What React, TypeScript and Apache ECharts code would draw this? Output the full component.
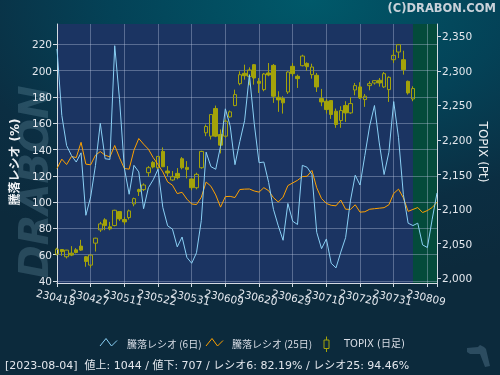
import React, { useEffect, useRef } from 'react';
import * as echarts from 'echarts';

// Trading days (YYMMDD), index 0..79
const dates = [
  '230418','230419','230420','230421','230424','230425','230426','230427','230428','230501',
  '230502','230508','230509','230510','230511','230512','230515','230516','230517','230518',
  '230519','230522','230523','230524','230525','230526','230529','230530','230531','230601',
  '230602','230605','230606','230607','230608','230609','230612','230613','230614','230615',
  '230616','230619','230620','230621','230622','230623','230626','230627','230628','230629',
  '230630','230703','230704','230705','230706','230707','230710','230711','230712','230713',
  '230714','230718','230719','230720','230721','230724','230725','230726','230727','230728',
  '230731','230801','230802','230803','230804','230807','230808','230809','230810','230814',
];

// 騰落レシオ (6日) %
const ratio6 = [
  216.5,166,143,135.5,130.5,137.5,90,104,128,160,
  133,132.5,219,178,126,106,128,123,95,111,
  117,125,96,82,79.5,66,73.5,58,53.5,61.5,
  86,138,127,125,142.5,171,158,128.5,146,162,
  197,160,130,130.5,115,94.5,82,71,99,85.5,
  83,128,126.5,121,77,64.6,72,53.5,50,62,
  73,101,120.5,113,135.5,158,173.5,145,121,138,
  176.5,149,106,84,82.19,84,67.5,65.5,87,107,
];

// 騰落レシオ (25日) %
const ratio25 = [
  125.6,132.7,128.6,134.7,133.9,145.5,128.9,128.4,135.7,138.5,
  135.7,134.4,143.1,133.7,125.6,125.1,139.5,148.4,144.1,140.3,
  133.9,128.6,123.0,115.4,112.9,106.5,107.5,102.3,98.6,98.2,
  103.7,115.3,112.1,105.5,96.2,104.2,104.4,103.5,109.6,109.9,
  110.0,108.5,107.6,111.0,108.7,103.4,100.1,103.8,112.6,114.6,
  116.6,119.4,119.7,124.1,110.9,102.7,99.0,97.6,97.2,101.6,
  94.6,94.5,98.0,92.4,92.7,94.6,95.0,95.4,95.8,98.0,
  106.6,109.9,103.3,93.0,94.46,95.9,92.1,93.6,95.9,100.0,
];

// TOPIX daily: open, close, low, high (index 0..74)
const topixOpen = [
  2034.8,2041.5,2031.0,2036.2,2041.0,2046.4,2031.0,2018.9,2050.7,2069.9,
  2084.4,2074.3,2076.2,2096.4,2084.9,2087.7,2107.5,2128.2,2128.2,2152.7,
  2167.6,2159.9,2183.5,2155.1,2142.1,2151.7,2172.9,2160.4,2143.6,2131.0,
  2159.9,2210.5,2205.6,2245.6,2208.0,2205.6,2233.5,2249.9,2281.6,2296.6,
  2291.8,2309.1,2285.0,2273.0,2297.1,2308.1,2261.9,2260.0,2269.6,2306.7,
  2292.3,2307.6,2311.0,2294.7,2293.7,2260.0,2256.2,2257.1,2241.7,2228.2,
  2249.9,2239.3,2272.5,2276.9,2258.6,2278.8,2282.6,2286.5,2276.9,2273.0,
  2316.3,2327.4,2316.3,2285.0,2259.5,
];
const topixClose = [
  2042.0,2038.6,2040.6,2033.4,2037.2,2040.6,2024.2,2033.4,2057.9,2078.6,
  2076.2,2071.4,2098.3,2085.8,2081.5,2097.4,2115.2,2125.3,2134.9,2159.9,
  2160.9,2176.3,2161.3,2152.2,2146.9,2145.5,2159.9,2157.5,2131.0,2150.3,
  2183.5,2219.6,2236.9,2205.6,2192.6,2227.3,2240.8,2265.8,2294.6,2293.2,
  2301.4,2289.8,2282.1,2295.6,2294.2,2263.4,2258.1,2253.8,2298.5,2296.1,
  2288.9,2321.6,2306.2,2305.7,2276.9,2255.2,2244.1,2236.9,2222.5,2242.7,
  2239.3,2252.8,2278.8,2261.0,2263.4,2281.6,2286.0,2282.6,2296.1,2290.8,
  2322.6,2338.0,2301.9,2268.2,2274.5,
];
const topixLow = [
  2033.0,2032.4,2028.6,2031.9,2035.8,2039.6,2016.5,2015.1,2038.6,2067.0,
  2069.4,2069.4,2075.0,2082.9,2077.6,2084.9,2104.1,2119.0,2126.2,2146.9,
  2158.9,2157.5,2160.9,2147.9,2140.6,2143.1,2157.5,2144.5,2127.2,2128.6,
  2158.5,2205.6,2200.8,2204.2,2180.6,2203.2,2232.1,2249.0,2279.3,2287.4,
  2279.3,2280.2,2268.2,2270.6,2292.3,2253.8,2240.8,2238.3,2266.7,2292.3,
  2275.4,2306.7,2300.4,2288.9,2269.6,2249.0,2238.3,2230.6,2217.7,2217.7,
  2226.3,2237.9,2264.8,2259.5,2248.0,2272.0,2280.2,2277.3,2275.4,2255.2,
  2311.5,2318.7,2294.7,2265.8,2256.2,
];
const topixHigh = [
  2044.0,2042.0,2041.0,2046.4,2043.5,2055.5,2032.0,2034.0,2058.5,2081.5,
  2086.8,2081.5,2099.0,2097.0,2088.7,2099.3,2116.6,2129.6,2137.3,2162.3,
  2169.5,2176.8,2189.3,2162.3,2155.1,2159.4,2175.3,2169.5,2144.0,2152.7,
  2184.5,2222.5,2237.0,2249.9,2215.3,2229.7,2242.7,2273.0,2299.5,2309.1,
  2305.2,2310.1,2289.8,2297.1,2311.5,2310.1,2270.6,2263.4,2299.5,2311.5,
  2294.7,2323.5,2312.5,2310.5,2297.1,2274.0,2259.5,2257.6,2245.6,2249.0,
  2256.2,2261.9,2282.6,2283.6,2266.7,2285.0,2286.5,2289.8,2298.5,2292.3,
  2330.7,2338.9,2329.3,2286.0,2277.8,
];

const leftTicks = { min: 38.5, max: 235.5, step: 20 };
const rightTicks = { min: 1993, max: 2368, step: 50 };
const labelEvery = 7;
const latestIndex = 74;

const FONT = "'DejaVu Sans', 'Noto Sans CJK JP', sans-serif";
const LBL = '#e4e8ee';
const AX = '#d4dae2';
const GRIDC = 'rgba(190,200,225,0.38)';
const BLUE = '#8ad0f5';
const ORANGE = '#ffa200';
const OLIVE = '#a3a30a';

export default function App() {
  const ref = useRef<HTMLDivElement>(null);
  useEffect(() => {
    const chart = echarts.init(ref.current!, null, { renderer: 'svg' });
    const candles = topixOpen.map((o, i) => [o, topixClose[i], topixLow[i], topixHigh[i]]);
    const option: any = {
      animation: false,
      backgroundColor: 'transparent',
      textStyle: { fontFamily: FONT },
      grid: { left: 57, right: 63, top: 24, bottom: 92, show: true, backgroundColor: '#1b3462', borderWidth: 0 },
      xAxis: {
        type: 'category',
        data: dates,
        boundaryGap: false,
        z: 3,
        axisLine: { lineStyle: { color: AX, width: 1 } },
        axisTick: { interval: labelEvery - 1, length: 4, lineStyle: { color: AX } },
        axisLabel: {
          interval: 0, rotate: -13, align: 'center', verticalAlign: 'top', margin: 9,
          color: LBL, fontSize: 10.5, fontFamily: FONT,
          formatter: (v: string, i: number) => (i % labelEvery === 0 ? v : ''),
        },
        splitLine: { show: true, interval: labelEvery - 1, lineStyle: { color: GRIDC, width: 1 } },
      },
      yAxis: [
        {
          type: 'value', position: 'left', min: leftTicks.min, max: leftTicks.max,
          splitNumber: 10, minInterval: leftTicks.step, maxInterval: leftTicks.step, z: 3,
          axisLine: { show: true, lineStyle: { color: AX } },
          axisTick: { show: true, length: 4, lineStyle: { color: AX } },
          axisLabel: { showMinLabel: false, showMaxLabel: false, color: LBL, fontSize: 10.5, margin: 5, fontFamily: FONT },
          splitLine: { show: true, showMinLine: false, showMaxLine: false, lineStyle: { color: GRIDC, width: 1 } },
        },
        {
          type: 'value', position: 'right', min: rightTicks.min, max: rightTicks.max,
          splitNumber: 8, minInterval: rightTicks.step, maxInterval: rightTicks.step, z: 3,
          axisLine: { show: true, lineStyle: { color: AX } },
          axisTick: { show: true, length: 4, lineStyle: { color: AX } },
          axisLabel: {
            showMinLabel: false, showMaxLabel: false, color: LBL, fontSize: 10.5, margin: 5, fontFamily: FONT,
            formatter: (v: number) => v.toLocaleString('en-US'),
          },
          splitLine: { show: false },
        },
      ],
      series: [
        {
          type: 'line', name: 'area', data: [], z: 2, silent: true,
          markArea: {
            silent: true, z: 2,
            itemStyle: { color: '#044b3b' },
            data: [[{ xAxis: dates[latestIndex] }, { xAxis: dates[dates.length - 1] }]],
          },
        },
        {
          type: 'candlestick', name: 'TOPIX (日足)', yAxisIndex: 1, data: candles, z: 4,
          barWidth: 4, clip: false,
          itemStyle: { color: 'rgba(0,0,0,0)', color0: OLIVE, borderColor: OLIVE, borderColor0: OLIVE, borderWidth: 1 },
        },
        {
          type: 'line', name: '騰落レシオ (25日)', yAxisIndex: 0, data: ratio25, z: 5,
          symbol: 'none', lineStyle: { color: ORANGE, width: 1 },
        },
        {
          type: 'line', name: '騰落レシオ (6日)', yAxisIndex: 0, data: ratio6, z: 6,
          symbol: 'none', lineStyle: { color: BLUE, width: 1 },
        },
      ],
      graphic: [
        {
          type: 'text', x: 34, y: 182, rotation: Math.PI / 2, z: 0, silent: true,
          style: { text: 'DRABON', font: 'italic bold 40px "DejaVu Sans"', fill: 'rgba(125,165,185,0.26)', align: 'center', verticalAlign: 'middle' },
        },
        {
          type: 'text', x: 496, y: 8, z: 5,
          style: { text: '(C)DRABON.COM', font: 'bold 11.5px "DejaVu Sans"', fill: '#c9d2da', align: 'right', verticalAlign: 'middle' },
        },
        {
          type: 'text', x: 15, y: 162, rotation: Math.PI / 2, z: 5,
          style: { text: '騰落レシオ (%)', font: 'bold 12px "DejaVu Sans", "Noto Sans CJK JP"', fill: '#eef1f4', align: 'center', verticalAlign: 'middle' },
        },
        {
          type: 'text', x: 483, y: 152, rotation: -Math.PI / 2, z: 5,
          style: { text: 'TOPIX (Pt)', font: '12px "DejaVu Sans"', fill: '#eef1f4', align: 'center', verticalAlign: 'middle' },
        },
        { type: 'polyline', z: 5, shape: { points: [[100, 346], [106, 338.5], [111.5, 346], [117, 340.5]] }, style: { stroke: BLUE, lineWidth: 1, fill: null } },
        { type: 'text', x: 127, y: 343.5, z: 5, style: { text: '騰落レシオ (6日)', font: '10px "Noto Sans CJK JP"', fill: '#d8dde6', verticalAlign: 'middle' } },
        { type: 'polyline', z: 5, shape: { points: [[206, 346], [212, 338.5], [217.5, 346], [223, 340.5]] }, style: { stroke: ORANGE, lineWidth: 1, fill: null } },
        { type: 'text', x: 232, y: 343.5, z: 5, style: { text: '騰落レシオ (25日)', font: '10px "Noto Sans CJK JP"', fill: '#d8dde6', verticalAlign: 'middle' } },
        { type: 'line', z: 5, shape: { x1: 326.5, y1: 336.5, x2: 326.5, y2: 340 }, style: { stroke: OLIVE, lineWidth: 1 } },
        { type: 'line', z: 5, shape: { x1: 326.5, y1: 348.5, x2: 326.5, y2: 352 }, style: { stroke: OLIVE, lineWidth: 1 } },
        { type: 'rect', z: 5, shape: { x: 324, y: 340, width: 5, height: 8.5 }, style: { stroke: OLIVE, lineWidth: 1, fill: null } },
        { type: 'text', x: 344, y: 343.5, z: 5, style: { text: 'TOPIX (日足)', font: '10px "DejaVu Sans", "Noto Sans CJK JP"', fill: '#d8dde6', verticalAlign: 'middle' } },
        {
          type: 'text', x: 5, y: 365, z: 5,
          style: {
            text: '[2023-08-04]  値上: 1044 / 値下: 707 / レシオ6: 82.19% / レシオ25: 94.46%',
            font: '11px "DejaVu Sans", "Noto Sans CJK JP"', fill: '#e2e6ec', verticalAlign: 'middle',
          },
        },
        {
          type: 'polygon', z: 1, silent: true,
          shape: { points: [[467, 348], [478, 347], [480, 345], [484, 347], [486, 349], [490, 366], [485, 367], [480, 354], [470, 354], [467, 352]] },
          style: { fill: '#2c4c60' },
        },
      ],
    };
    chart.setOption(option);
    return () => chart.dispose();
  }, []);
  return (
    <div
      ref={ref}
      style={{
        position: 'fixed', left: 0, top: 0, width: 500, height: 375,
        background: 'radial-gradient(ellipse 95% 75% at 62% 0%, #00596a 0%, #044257 42%, #0b2e42 75%, #0c2a3c 100%)',
      }}
    />
  );
}
